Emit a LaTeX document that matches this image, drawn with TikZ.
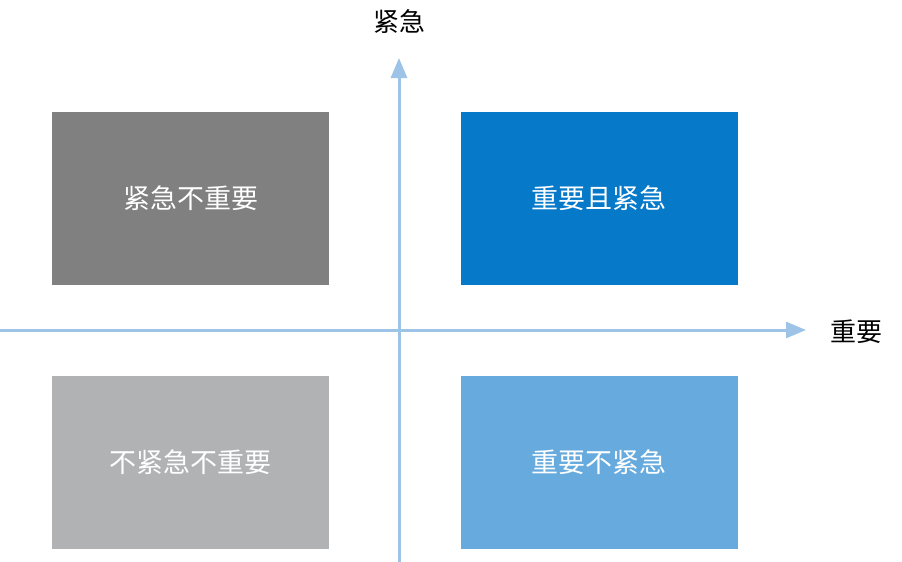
\documentclass[tikz,border=0pt]{standalone}
\usepackage{fontspec}
\setmainfont{Noto Sans CJK SC}
\usetikzlibrary{arrows.meta}
\definecolor{axisc}{HTML}{9DC3E6}
\definecolor{dgray}{HTML}{808080}
\definecolor{lgray}{HTML}{B1B2B4}
\definecolor{dblue}{HTML}{0679C9}
\definecolor{lblue}{HTML}{66AADE}
\begin{document}
\begin{tikzpicture}[x=1pt,y=-1pt,
  quad/.style={minimum width=277pt,minimum height=173pt,inner sep=0pt,text=white,font=\fontsize{27}{30}\selectfont},
  axis/.style={draw=axisc,line width=3pt,-{Triangle[length=20pt,width=16pt]}},
  alabel/.style={font=\fontsize{26}{30}\selectfont,text=black}]
\useasboundingbox (0,0) rectangle (902,562);
\node[quad,fill=dgray] (tl) at (190.5,198.5) {紧急不重要};
\node[quad,fill=dblue] (tr) at (599,198.5) {重要且紧急};
\node[quad,fill=lgray] (bl) at (190.5,462) {不紧急不重要};
\node[quad,fill=lblue] (br) at (599,462) {重要不紧急};
\coordinate (vs) at (399,562);
\coordinate (ve) at (399,58);
\coordinate (hs) at (0,330);
\coordinate (he) at (806,330);
\draw[axis] (vs) -- (ve);
\draw[axis] (hs) -- (he);
\node[alabel] (ul) at (399,22) {紧急};
\node[alabel] (il) at (856,332) {重要};
\end{tikzpicture}
\end{document}
